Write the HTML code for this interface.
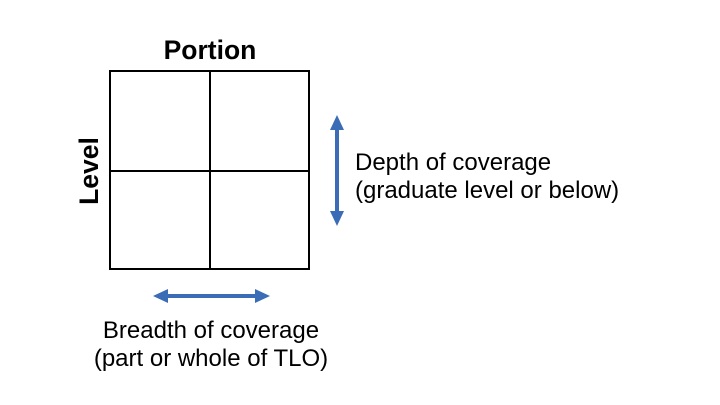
<!DOCTYPE html>
<html><head><style>body{margin:0;background:#fff}</style></head><body>
<svg width="720" height="405" xmlns="http://www.w3.org/2000/svg" style="display:block">
<rect width="720" height="405" fill="#fff"/>
<g stroke="#000" stroke-width="2" fill="none">
<rect x="110" y="71" width="199" height="198"/>
<line x1="210" y1="71" x2="210" y2="269"/>
<line x1="110" y1="171" x2="309" y2="171"/>
</g>
<g fill="#3a6db5" stroke="none">
<rect x="335" y="128" width="4" height="86"/>
<polygon points="337,115 330,130 344,130"/>
<polygon points="337,226 330,211 344,211"/>
<rect x="166" y="294" width="91" height="4"/>
<polygon points="153,296 168,289 168,303"/>
<polygon points="270,296 255,289 255,303"/>
</g>
<g font-family="Liberation Sans, sans-serif" fill="#000">
<text x="210" y="59" font-size="26.5" font-weight="bold" text-anchor="middle">Portion</text>
<text transform="translate(98,171) rotate(-90)" font-size="26.5" font-weight="bold" text-anchor="middle">Level</text>
<text x="355" y="170" font-size="24">Depth of coverage</text>
<text x="355" y="198" font-size="24">(graduate level or below)</text>
<text x="211" y="338" font-size="24" text-anchor="middle">Breadth of coverage</text>
<text x="211" y="366" font-size="24" text-anchor="middle">(part or whole of TLO)</text>
</g>
</svg>
</body></html>
